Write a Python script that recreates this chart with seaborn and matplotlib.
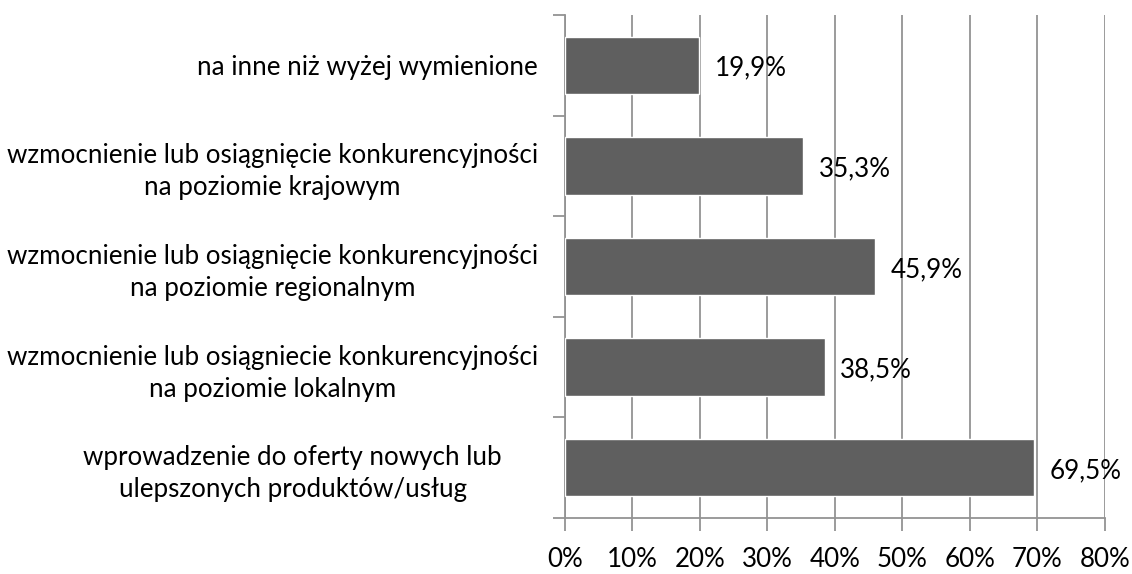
import matplotlib
matplotlib.use("Agg")
import matplotlib.pyplot as plt
import matplotlib.transforms as mtransforms
import seaborn as sns
import pandas as pd
import numpy as np
from matplotlib.ticker import FixedLocator, PercentFormatter

# Chart data (top to bottom)
categories = [
    "na inne niż wyżej wymienione",
    "wzmocnienie lub osiągnięcie konkurencyjności\nna poziomie krajowym",
    "wzmocnienie lub osiągnięcie konkurencyjności\nna poziomie regionalnym",
    "wzmocnienie lub osiągniecie konkurencyjności\nna poziomie lokalnym",
    "wprowadzenie do oferty nowych lub\nulepszonych produktów/usług",
]
values = [19.9, 35.3, 45.9, 38.5, 69.5]
x_ticks = [0, 10, 20, 30, 40, 50, 60, 70, 80]

sns.set_theme(style="white")
plt.rcParams['font.family'] = ['Lato', 'DejaVu Sans']

FS = 18.7
df = pd.DataFrame({"category": categories, "value": values})

fig = plt.figure(figsize=(11.32, 5.74), dpi=100)
ax = fig.add_axes([0.4991, 0.0976, 0.4770, 0.8763])

sns.barplot(data=df, x="value", y="category", order=categories, color="#5f5f5f",
            saturation=1, width=0.57, ax=ax, zorder=3)

ax.set_xlim(0, 80)
ax.set_ylim(len(categories) - 0.5, -0.5)
ax.xaxis.set_major_locator(FixedLocator(x_ticks))
ax.xaxis.set_major_formatter(PercentFormatter(decimals=0))
ax.grid(axis="x", color="#939393", linewidth=1.3, zorder=0)
ax.set_axisbelow(True)

for s in ["top", "right"]:
    ax.spines[s].set_visible(False)
for s in ["left", "bottom"]:
    ax.spines[s].set_color("#939393")
    ax.spines[s].set_linewidth(1.3)

# category ticks at boundaries between bars
ax.yaxis.set_minor_locator(FixedLocator(np.arange(-0.5, len(categories), 1.0)))
ax.tick_params(axis="y", which="major", length=0, pad=19.5, labelsize=FS, labelcolor="black")
ax.tick_params(axis="y", which="minor", length=9, width=1.3, color="#939393", left=True)
ax.tick_params(axis="x", which="major", length=9, width=1.3, color="#939393", bottom=True,
               pad=12, labelsize=FS, labelcolor="black")
for lbl in ax.get_yticklabels():
    lbl.set_horizontalalignment("right")
    lbl.set_multialignment("center")
    lbl.set_linespacing(1.35)
# the last label block sits a bit further left in the original
last = ax.get_yticklabels()[-1]
last.set_transform(last.get_transform() + mtransforms.ScaledTranslation(-0.36, 0, fig.dpi_scale_trans))

for i, v in enumerate(values):
    ax.text(v + 2.3, i + 0.03, f"{v:.1f}%".replace(".", ","), va="center", ha="left",
            fontsize=FS, color="black", zorder=4)

ax.set_xlabel("")
ax.set_ylabel("")

plt.savefig("out.png", dpi=100)
